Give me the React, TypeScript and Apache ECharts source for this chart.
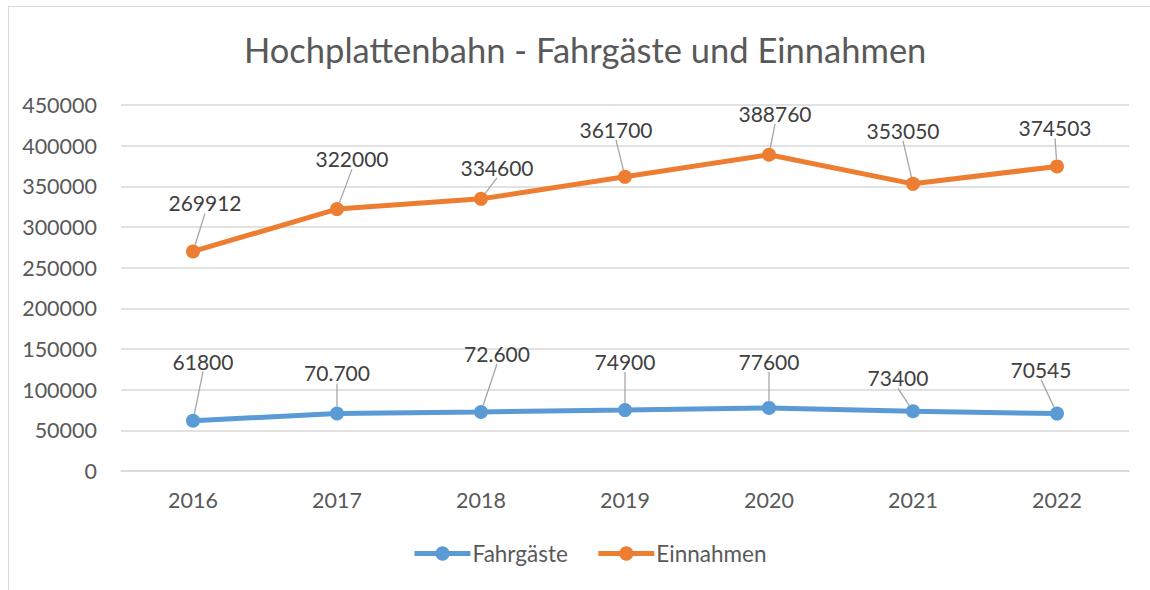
import React, { useEffect, useRef } from "react";
import * as echarts from "echarts";

const years = ["2016", "2017", "2018", "2019", "2020", "2021", "2022"];
const fahrgaeste = [61800, 70700, 72600, 74900, 77600, 73400, 70545];
const fahrgaesteLabels = ["61800", "70.700", "72.600", "74900", "77600", "73400", "70545"];
const einnahmen = [269912, 322000, 334600, 361700, 388760, 353050, 374503];
const einnahmenLabels = ["269912", "322000", "334600", "361700", "388760", "353050", "374503"];
const yTicks = { min: 0, max: 450000, interval: 50000 };

// label displacements (styling only)
const blueShift = [[10, -37], [0, -18], [16, -36], [0, -26], [0, -24], [-15, -11], [-16, -22]];
const orangeShift = [[12, -26], [15, -28], [16, -9], [-9, -25], [6, -19], [-10, -31], [-2, -16]];

const FONT = "Lato";

export default function App() {
  const ref = useRef<HTMLDivElement>(null);
  useEffect(() => {
    if (!ref.current) return;
    const chart = echarts.init(ref.current, undefined, { renderer: "svg" });
    const mkSeries = (name: string, data: number[], labels: string[], color: string, shift: number[][]) => ({
      name,
      type: "line",
      data,
      symbol: "circle",
      symbolSize: 14,
      itemStyle: { color },
      lineStyle: { color, width: 5 },
      label: {
        show: true,
        position: "top",
        fontFamily: FONT,
        fontSize: 21,
        color: "#404040",
        formatter: (p: any) => labels[p.dataIndex],
      },
      labelLine: { show: true, lineStyle: { color: "#A6A6A6", width: 1.3 } },
      labelLayout: (p: any) => ({ dx: shift[p.dataIndex][0], dy: shift[p.dataIndex][1] }),
      z: 3,
    });
    chart.setOption({
      animation: false,
      backgroundColor: "#ffffff",
      textStyle: { fontFamily: FONT },
      title: {
        text: "Hochplattenbahn - Fahrgäste und Einnahmen",
        left: 239,
        top: 27,
        textStyle: { fontFamily: FONT, fontSize: 34.5, fontWeight: "normal", color: "#595959" },
      },
      graphic: [
        {
          type: "rect",
          shape: { x: 8.5, y: 6.5, width: 1160, height: 600 },
          style: { fill: "none", stroke: "#D9D9D9", lineWidth: 1 },
          silent: true,
        },
      ],
      legend: {
        bottom: 20,
        left: 407,
        itemWidth: 56,
        itemHeight: 18,
        itemGap: 28,
        lineStyle: { width: 5 },
        textStyle: { fontFamily: FONT, fontSize: 22.5, color: "#595959", padding: [0, 0, 0, -3] },
        data: ["Fahrgäste", "Einnahmen"],
      },
      grid: { left: 121, right: 21, top: 105, bottom: 119 },
      xAxis: {
        type: "category",
        data: years,
        boundaryGap: true,
        axisLine: { lineStyle: { color: "#D9D9D9", width: 1.5 } },
        axisTick: { show: false },
        axisLabel: { fontFamily: FONT, fontSize: 21.5, color: "#595959", margin: 18 },
      },
      yAxis: {
        type: "value",
        min: yTicks.min,
        max: yTicks.max,
        interval: yTicks.interval,
        axisLine: { show: false },
        axisTick: { show: false },
        splitLine: { lineStyle: { color: "#D9D9D9", width: 1.5 } },
        axisLabel: {
          fontFamily: FONT,
          fontSize: 21.5,
          color: "#595959",
          margin: 24,
          formatter: (v: number) => String(v),
        },
      },
      series: [
        mkSeries("Fahrgäste", fahrgaeste, fahrgaesteLabels, "#5B9BD5", blueShift),
        mkSeries("Einnahmen", einnahmen, einnahmenLabels, "#ED7D31", orangeShift),
      ],
    });
    return () => chart.dispose();
  }, []);
  return (
    <div
      ref={ref}
      style={{ position: "absolute", left: 0, top: 0, width: 1150, height: 590 }}
    />
  );
}
